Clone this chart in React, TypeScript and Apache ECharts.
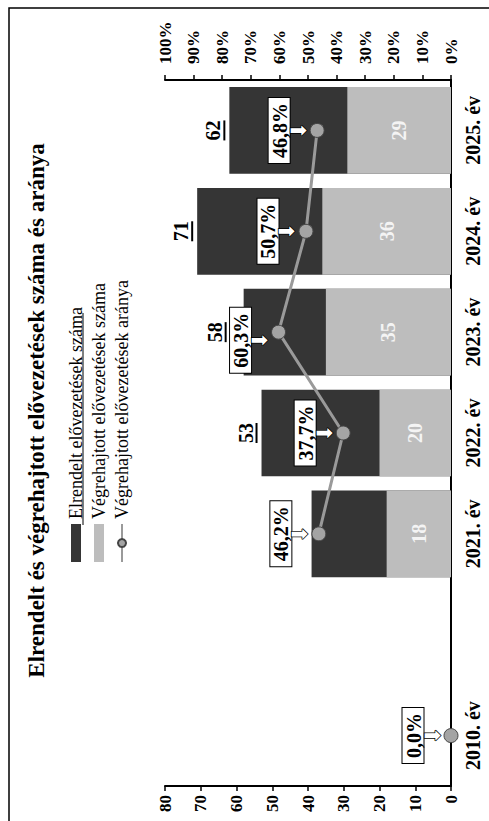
import React, { useEffect, useRef } from "react";
import * as echarts from "echarts";

const categories = ["2010. év", "", "2021. év", "2022. év", "2023. év", "2024. év", "2025. év"];
const ordered = [null, null, 39, 53, 58, 71, 62];
const executed = [null, null, 18, 20, 35, 36, 29];
const ratio = [0, null, 46.2, 37.7, 60.3, 50.7, 46.8];
const countTicks = { min: 0, max: 80, interval: 10 };
const pctTicks = { min: 0, max: 100, interval: 10 };
const seriesNames = [
  "Elrendelt elővezetések száma",
  "Végrehajtott elővezetések száma",
  "Végrehajtott elővezetések aránya",
];
const titleText = "Elrendelt és végrehajtott elővezetések száma és aránya";

const SERIF = "'Liberation Serif', 'Times New Roman', serif";

export default function App() {
  const ref = useRef<HTMLDivElement>(null);
  useEffect(() => {
    if (!ref.current) return;
    const chart = echarts.init(ref.current, undefined, { renderer: "svg" });

    const orderedData = ordered.map((v, i) => {
      if (v === null) return null;
      const item: any = { value: v };
      if (i === 2) item.label = { show: false };
      if (i === 4) item.label = { offset: [0, -13] };
      return item;
    });
    const ratioData = ratio.map((v, i) => {
      if (v === null) return null;
      const item: any = { value: v };
      if (i === 4) item.label = { offset: [-8, 0] };
      return item;
    });

    chart.setOption({
      animation: false,
      backgroundColor: "#ffffff",
      title: {
        text: titleText,
        left: "center",
        top: 20,
        textStyle: { fontFamily: SERIF, fontSize: 23, fontWeight: "bold", color: "#000" },
      },
      legend: {
        orient: "vertical",
        left: 253,
        top: 62,
        itemGap: 5,
        itemWidth: 38,
        itemHeight: 10,
        selectedMode: false,
        data: [
          { name: seriesNames[0], icon: "rect" },
          { name: seriesNames[1], icon: "rect" },
          { name: seriesNames[2] },
        ],
        textStyle: { fontFamily: SERIF, fontSize: 18, color: "#000" },
      },
      grid: { left: 35, right: 80, top: 165, bottom: 38 },
      xAxis: {
        type: "category",
        data: categories,
        axisLine: { lineStyle: { color: "#000", width: 2 } },
        axisTick: { length: 6, lineStyle: { color: "#000", width: 1.5 } },
        axisLabel: { fontFamily: SERIF, fontSize: 20, fontWeight: "bold", color: "#000", margin: 12 },
      },
      yAxis: [
        {
          type: "value",
          ...countTicks,
          position: "left",
          splitLine: { show: false },
          axisLine: { show: true, lineStyle: { color: "#000", width: 2 } },
          axisTick: { show: true, length: 5, lineStyle: { color: "#000", width: 1.5 } },
          axisLabel: { fontFamily: SERIF, fontSize: 17, fontWeight: "bold", color: "#000", margin: 9 },
        },
        {
          type: "value",
          ...pctTicks,
          position: "right",
          splitLine: { show: false },
          axisLine: { show: true, lineStyle: { color: "#000", width: 2 } },
          axisTick: { show: true, length: 5, lineStyle: { color: "#000", width: 1.5 } },
          axisLabel: {
            fontFamily: SERIF,
            fontSize: 17,
            fontWeight: "bold",
            color: "#000",
            margin: 16,
            formatter: "{value}%",
          },
        },
      ],
      series: [
        {
          name: seriesNames[0],
          type: "bar",
          data: orderedData,
          barWidth: "86%",
          itemStyle: { color: "#353535" },
          label: {
            show: true,
            position: "top",
            distance: 4,
            formatter: (p: any) => `{n|${p.value}}\n{u| }`,
            rich: {
              n: { fontFamily: SERIF, fontSize: 20, fontWeight: "bold", color: "#000", lineHeight: 20 },
              u: { width: 20, height: 2, lineHeight: 2, fontSize: 1, backgroundColor: "#000" },
            },
          },
          z: 2,
        },
        {
          name: seriesNames[1],
          type: "bar",
          data: executed,
          barWidth: "86%",
          barGap: "-100%",
          itemStyle: { color: "#bdbdbd" },
          label: {
            show: true,
            position: "inside",
            fontFamily: SERIF,
            fontSize: 20,
            fontWeight: "bold",
            color: "#f4f4f4",
          },
          z: 3,
        },
        {
          name: seriesNames[2],
          type: "line",
          yAxisIndex: 1,
          data: ratioData,
          connectNulls: false,
          symbol: "circle",
          symbolSize: 14,
          lineStyle: { color: "#9a9a9a", width: 3 },
          itemStyle: { color: "#a4a4a4", borderColor: "#444", borderWidth: 1 },
          label: {
            show: true,
            position: "top",
            distance: 2,
            formatter: (p: any) => `{b|${Number(p.value).toFixed(1).replace(".", ",")}%}\n{a|⬇}`,
            rich: {
              b: {
                fontFamily: SERIF,
                fontSize: 20,
                fontWeight: "bold",
                color: "#000",
                backgroundColor: "#fff",
                borderColor: "#000",
                borderWidth: 1,
                padding: [1, 5, 0, 5],
                lineHeight: 21,
              },
              a: {
                fontFamily: "'DejaVu Sans'",
                fontSize: 21,
                lineHeight: 18,
                color: "#fff",
                textBorderColor: "#000",
                textBorderWidth: 1.5,
              },
            },
          },
          z: 5,
        },
      ],
      graphic: [
        {
          type: "rect",
          shape: { x: -5, y: 9, width: 818, height: 500 },
          style: { fill: "none", stroke: "#000", lineWidth: 1.5 },
          silent: true,
        },
        {
          type: "line",
          shape: { x1: 296, y1: 83, x2: 508, y2: 83 },
          style: { stroke: "#000", lineWidth: 1 },
          silent: true,
        },
      ],
    });
    return () => chart.dispose();
  }, []);

  return (
    <div
      style={{
        position: "fixed",
        left: 0,
        top: 0,
        width: 489,
        height: 821,
        overflow: "hidden",
        background: "#fff",
      }}
    >
      <div
        ref={ref}
        style={{
          position: "absolute",
          left: 0,
          top: 0,
          width: 821,
          height: 489,
          transformOrigin: "0 0",
          transform: "translate(0px, 821px) rotate(-90deg)",
        }}
      />
    </div>
  );
}
